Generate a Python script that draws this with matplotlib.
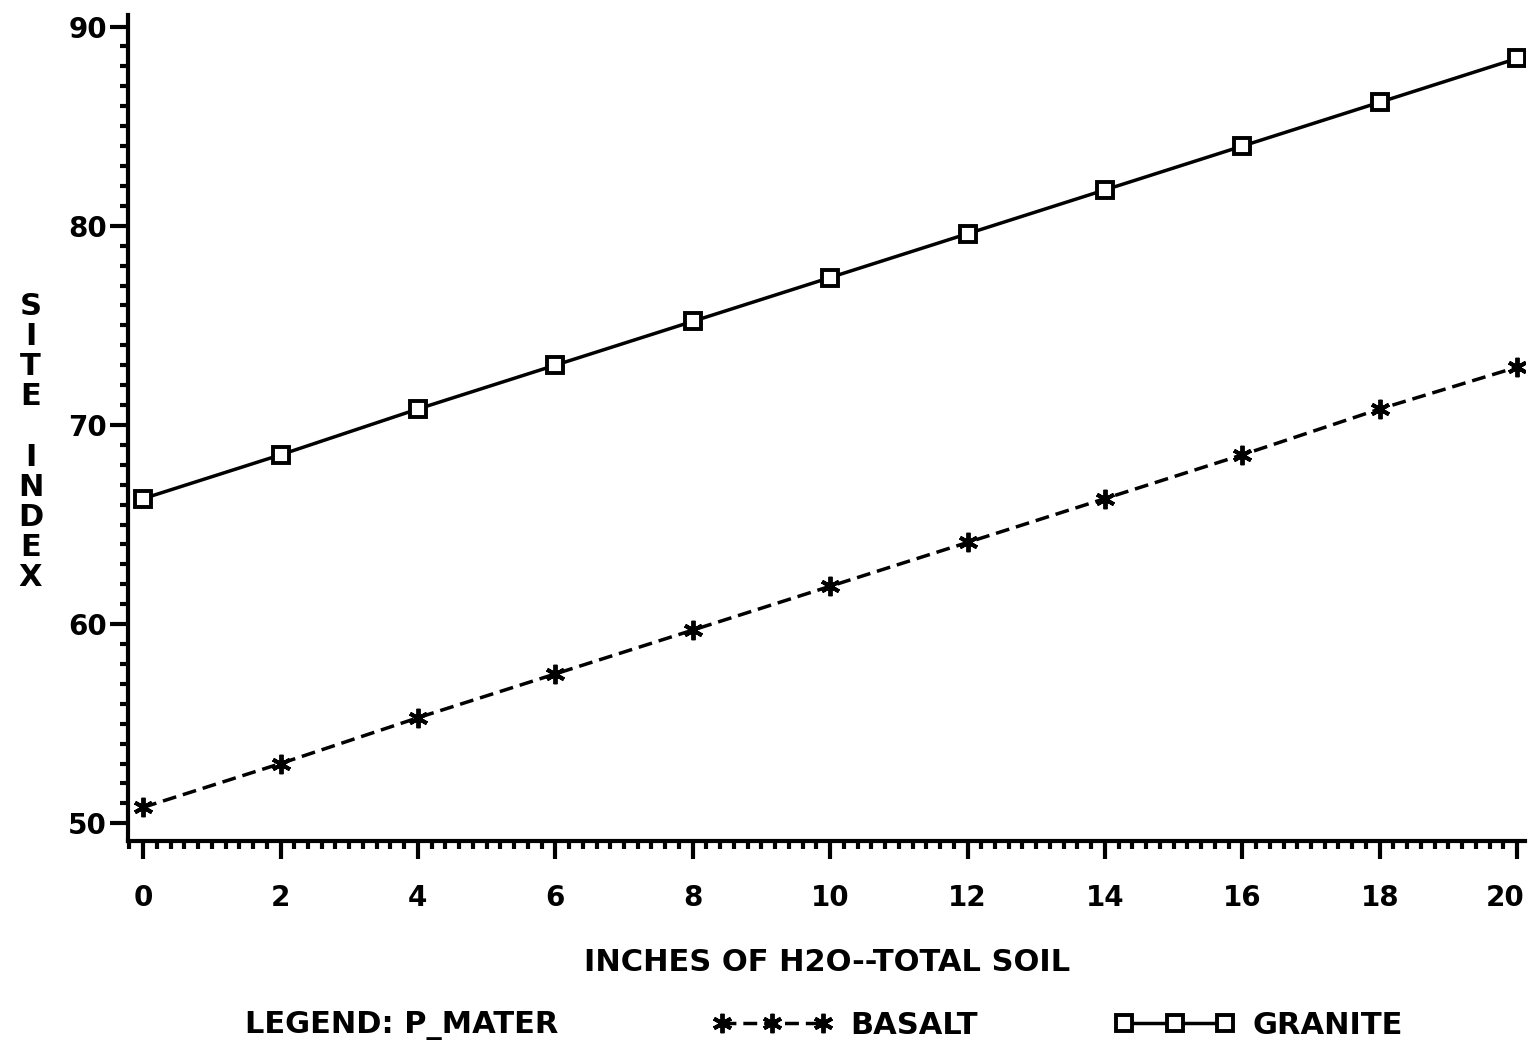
import matplotlib.pyplot as plt
from matplotlib.ticker import MultipleLocator
from matplotlib.transforms import ScaledTranslation

# Valores
inches_h2o = [0, 2, 4, 6, 8, 10, 12, 14, 16, 18, 20]
granite = [66.3, 68.5, 70.8, 73.0, 75.2, 77.4, 79.6, 81.8, 84.0, 86.2, 88.4]
basalt = [50.8, 53.0, 55.3, 57.5, 59.7, 61.9, 64.1, 66.3, 68.5, 70.8, 72.9]
x_ticks = [0, 2, 4, 6, 8, 10, 12, 14, 16, 18, 20]
y_ticks = [50, 60, 70, 80, 90]

plt.rcParams['font.family'] = ['DejaVu Sans']
plt.rcParams['font.weight'] = 'bold'

fig = plt.figure(figsize=(15.33, 10.45), dpi=100)
ax = fig.add_axes([0.0835, 0.195, 0.9115, 0.791])

l_basalt, = ax.plot(inches_h2o, basalt, color='black', linewidth=2.5, linestyle=(0, (4, 2)),
                    marker=(6, 2, 0), markersize=14, markeredgewidth=2.8)
l_granite, = ax.plot(inches_h2o, granite, color='black', linewidth=2.5, linestyle='-',
                     marker='s', markersize=12, markerfacecolor='white', markeredgewidth=2.8)

ax.set_xlim(-0.22, 20.12)
ax.set_ylim(49.1, 90.6)
ax.set_xticks(x_ticks)
ax.set_yticks(y_ticks)
ax.xaxis.set_minor_locator(MultipleLocator(0.2))
ax.yaxis.set_minor_locator(MultipleLocator(1))

for side in ['top', 'right']:
    ax.spines[side].set_visible(False)
for side in ['left', 'bottom']:
    ax.spines[side].set_linewidth(3)

ax.tick_params(axis='both', which='major', length=13, width=3, labelsize=20, direction='out')
ax.tick_params(axis='both', which='minor', length=6, width=3, direction='out')
ax.tick_params(axis='x', which='major', pad=18)
ax.tick_params(axis='y', which='major', pad=2)

# Desplazar la última etiqueta (20) para que no se corte en el borde
last = ax.get_xticklabels()[-1]
last.set_transform(last.get_transform() + ScaledTranslation(-12 / 100, 0, fig.dpi_scale_trans))

# Etiquetas de ejes
ax.set_xlabel('INCHES OF H2O--TOTAL SOIL', fontsize=22, fontweight='bold', labelpad=26)
fig.text(0.02, 0.577, '\n'.join('SITE INDEX'), fontsize=22, fontweight='bold',
         ha='center', va='center', linespacing=1.05)

# Leyenda
fig.text(0.16, 0.019, 'LEGEND: P_MATER', fontsize=22, fontweight='bold', ha='left', va='center')
fig.legend([l_basalt, l_granite], ['BASALT', 'GRANITE'], ncol=2, loc='center',
           bbox_to_anchor=(0.69, 0.019), frameon=False, fontsize=22, numpoints=3,
           handlelength=3.9, columnspacing=4.5, handletextpad=0.6)

fig.savefig('out.png', dpi=100)
